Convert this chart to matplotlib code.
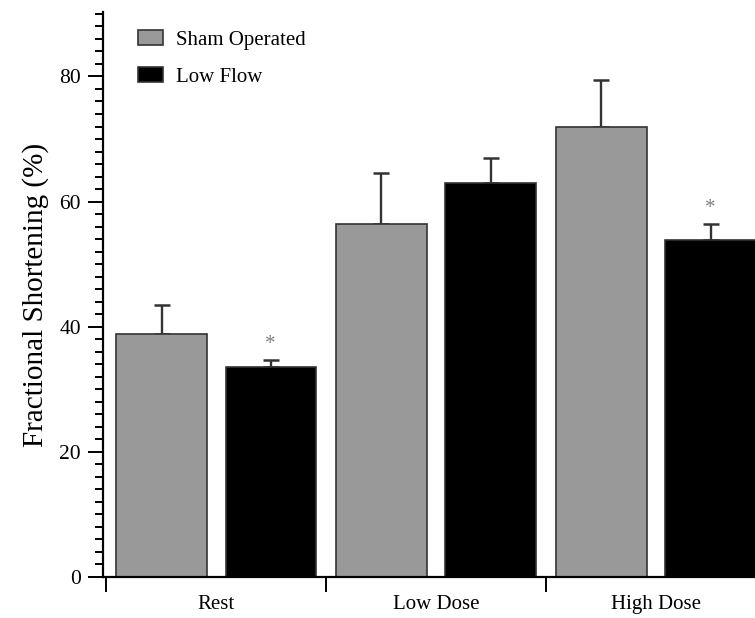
import numpy as np
import matplotlib
matplotlib.use('Agg')
import matplotlib.pyplot as plt
from matplotlib.ticker import MultipleLocator, FixedLocator, NullFormatter, FixedFormatter

plt.rcParams['font.family'] = ['Liberation Serif', 'DejaVu Serif']

# data
groups = ['Rest', 'Low Dose', 'High Dose']
sham = [38.8, 56.4, 71.9]
sham_err = [4.7, 8.2, 7.6]
low_flow = [33.6, 62.9, 53.9]
low_flow_err = [1.1, 4.0, 2.5]
star_y = [37.2, None, 58.9]   # significance marks above Low Flow bars

bar_w = 0.41
offset = 0.248
gray = '#999999'
edge = '#333333'

fig = plt.figure(figsize=(7.55, 6.18), dpi=100)
ax = fig.add_axes([103 / 755, 1 - 577 / 618, 1 - 103 / 755, (577 - 12) / 618])

x = np.arange(len(groups))
ax.bar(x - offset, sham, bar_w, color=gray, edgecolor=edge, linewidth=1.2,
       label='Sham Operated', zorder=2)
ax.bar(x + offset, low_flow, bar_w, color='black', edgecolor=edge, linewidth=1.2,
       label='Low Flow', zorder=2)

# only the upper half of the error bars shows
ax.errorbar(x - offset, sham, yerr=[np.zeros(3), sham_err], fmt='none',
            ecolor=edge, elinewidth=1.7, capsize=5.8, capthick=1.8, zorder=1)
ax.errorbar(x + offset, low_flow, yerr=[np.zeros(3), low_flow_err], fmt='none',
            ecolor=edge, elinewidth=1.7, capsize=5.8, capthick=1.8, zorder=1)

for xi, sy in zip(x, star_y):
    if sy is not None:
        ax.text(xi + offset, sy, '*', ha='center', va='center', fontsize=15,
                color='#808080')

ax.set_xlim(-0.514, 2.45)
ax.set_ylim(0, 90.3)

ax.spines['top'].set_visible(False)
ax.spines['right'].set_visible(False)
for s in ['left', 'bottom']:
    ax.spines[s].set_linewidth(1.6)

ax.yaxis.set_major_locator(MultipleLocator(20))
ax.yaxis.set_minor_locator(MultipleLocator(2))
ax.tick_params(axis='y', which='major', length=11, width=1.4, labelsize=15.5, pad=5)
ax.tick_params(axis='y', which='minor', length=6, width=1.4)

ax.xaxis.set_major_locator(FixedLocator([-0.5, 0.5, 1.5, 2.5]))
ax.xaxis.set_major_formatter(NullFormatter())
ax.xaxis.set_minor_locator(FixedLocator(x))
ax.xaxis.set_minor_formatter(FixedFormatter(groups))
ax.tick_params(axis='x', which='major', length=11, width=1.4)
ax.tick_params(axis='x', which='minor', length=0, labelsize=15, pad=13)

ax.set_ylabel('Fractional Shortening (%)', fontsize=21, labelpad=7)

ax.legend(loc='upper left', bbox_to_anchor=(138 / 755, 1 - 30 / 618),
          bbox_transform=fig.transFigure, frameon=False, fontsize=15,
          borderpad=0, borderaxespad=0, handlelength=1.2, handleheight=0.75,
          handletextpad=0.6, labelspacing=0.82)

fig.savefig('out.png', dpi=100)
